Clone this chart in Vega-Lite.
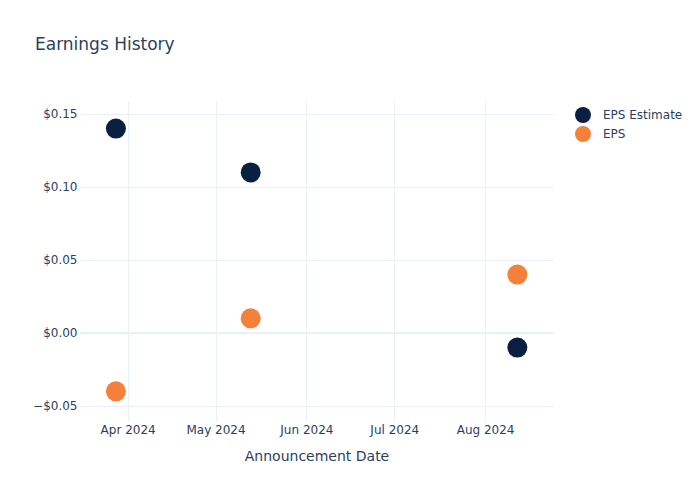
{
  "$schema": "https://vega.github.io/schema/vega-lite/v6.json",
  "autosize": {"type": "none"},
  "width": 473,
  "height": 320,
  "padding": {"left": 80, "top": 101, "right": 147, "bottom": 79},
  "background": "white",
  "title": {
    "text": "Earnings History",
    "anchor": "start",
    "frame": "group",
    "dx": -45,
    "offset": 47,
    "font": "DejaVu Sans",
    "fontSize": 17,
    "fontWeight": "normal",
    "color": "#2a3f5f"
  },
  "config": {
    "view": {"stroke": null},
    "axis": {
      "labelFont": "DejaVu Sans",
      "labelFontSize": 12,
      "labelColor": "#2a3f5f",
      "titleFont": "DejaVu Sans",
      "titleFontSize": 14,
      "titleFontWeight": "normal",
      "titleColor": "#2a3f5f",
      "grid": true,
      "gridColor": "#EBF0F8",
      "gridWidth": 1,
      "gridOpacity": 1,
      "domain": false,
      "ticks": false
    },
    "legend": {
      "labelFont": "DejaVu Sans",
      "labelFontSize": 12,
      "labelColor": "#2a3f5f"
    }
  },
  "data": {
    "values": [
      {"date": "2024-03-28T00:00:00", "value": 0.14, "series": "EPS Estimate"},
      {"date": "2024-05-13T00:00:00", "value": 0.11, "series": "EPS Estimate"},
      {"date": "2024-08-12T00:00:00", "value": -0.01, "series": "EPS Estimate"},
      {"date": "2024-03-28T00:00:00", "value": -0.04, "series": "EPS"},
      {"date": "2024-05-13T00:00:00", "value": 0.01, "series": "EPS"},
      {"date": "2024-08-12T00:00:00", "value": 0.04, "series": "EPS"}
    ]
  },
  "layer": [
    {
      "mark": {"type": "rule", "color": "#EBF0F8", "strokeWidth": 2},
      "encoding": {"y": {"datum": 0, "type": "quantitative"}}
    },
    {
      "mark": {"type": "point", "shape": "circle", "filled": true, "opacity": 1, "size": 400},
      "encoding": {
        "x": {
          "field": "date",
          "type": "temporal",
          "title": "Announcement Date",
          "scale": {
            "domain": [
              {"year": 2024, "month": 3, "date": 15, "hours": 18},
              {"year": 2024, "month": 8, "date": 24, "hours": 4}
            ]
          },
          "axis": {
            "values": [
              {"year": 2024, "month": 4, "date": 1},
              {"year": 2024, "month": 5, "date": 1},
              {"year": 2024, "month": 6, "date": 1},
              {"year": 2024, "month": 7, "date": 1},
              {"year": 2024, "month": 8, "date": 1}
            ],
            "format": "%b %Y",
            "labelPadding": 3,
            "titlePadding": 14
          }
        },
        "y": {
          "field": "value",
          "type": "quantitative",
          "title": null,
          "scale": {"domain": [-0.0603, 0.1589], "nice": false, "zero": false},
          "axis": {
            "values": [-0.05, 0, 0.05, 0.1, 0.15],
            "format": "$.2f",
            "labelPadding": 3,
            "grid": true
          }
        },
        "color": {
          "field": "series",
          "type": "nominal",
          "title": null,
          "scale": {"domain": ["EPS Estimate", "EPS"], "range": ["#0b1f42", "#f5803a"]},
          "legend": {
            "orient": "none",
            "legendX": 495,
            "legendY": 6,
            "symbolType": "circle",
            "symbolSize": 256,
            "symbolFillColor": null,
            "symbolStrokeWidth": 0,
            "symbolOpacity": 1,
            "labelOffset": 12,
            "rowPadding": 3
          }
        }
      }
    }
  ]
}
